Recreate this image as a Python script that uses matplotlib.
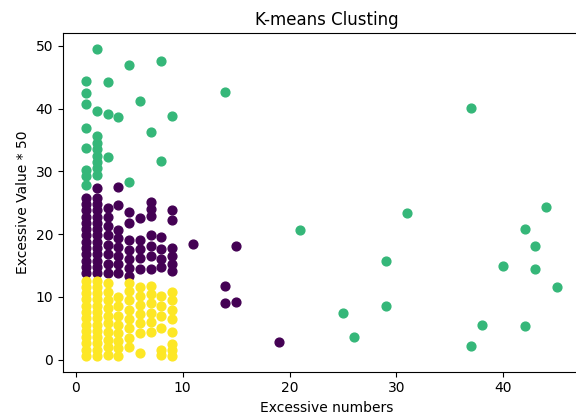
import matplotlib
matplotlib.use("Agg")
import matplotlib.pyplot as plt
import numpy as np

# ---- data: (x, y) per cluster ----
green_x = [2, 5, 8, 1, 3, 1, 1, 6, 2, 3, 4, 9, 1, 7, 1, 3, 8, 1, 1, 1, 5,
           2, 2, 2, 2, 2, 2, 2,
           14, 37, 31, 21, 44, 42, 43, 29, 40, 43, 45, 29, 25, 26, 38, 42, 37]
green_y = [49.5, 46.9, 47.6, 44.4, 44.3, 42.5, 40.8, 41.2, 39.6, 39.2, 38.7, 38.9,
           36.9, 36.3, 33.7, 32.3, 31.6, 30.2, 29.2, 27.9, 28.3,
           29.5, 30.5, 31.5, 32.5, 33.5, 34.5, 35.6,
           42.6, 40.1, 23.4, 20.6, 24.3, 20.9, 18.2, 15.8, 15.0, 14.5, 11.6,
           8.5, 7.5, 3.6, 5.6, 5.4, 2.2]

purple_x = ([1] * 13 + [2] * 14 + [3] * 8 + [4] * 8 + [5] * 7 + [6] * 5 +
            [7] * 7 + [8] * 4 + [9] * 6 + [11, 15, 14, 14, 15, 19])
purple_y = ([13.8, 14.8, 15.8, 16.8, 17.8, 18.8, 19.8, 20.8, 21.8, 22.8, 23.8, 24.8, 25.8] +
            [13.8, 14.8, 15.8, 16.8, 17.8, 18.8, 19.8, 20.8, 21.8, 22.8, 23.8, 24.8, 25.8, 27.4] +
            [13.8, 15.3, 16.8, 18.3, 19.8, 21.3, 22.8, 24.2] +
            [27.5, 24.7, 20.7, 19.4, 18.0, 16.6, 15.2, 13.8] +
            [23.5, 21.8, 19.0, 17.5, 16.0, 14.6, 13.4] +
            [22.6, 19.0, 17.6, 16.2, 14.5] +
            [25.2, 24.0, 22.9, 19.9, 18.2, 16.5, 14.5] +
            [19.5, 17.7, 16.1, 14.8] +
            [23.9, 22.2, 17.8, 16.5, 15.2, 14.2] +
            [18.5, 18.2, 11.7, 9.1, 9.2, 2.8])

yellow_x = ([1] * 13 + [2] * 13 + [3] * 10 + [4] * 8 + [5] * 8 + [6] * 7 +
            [7] * 6 + [8] * 6 + [9] * 8)
yellow_y = ([0.6, 1.6, 2.6, 3.6, 4.6, 5.6, 6.6, 7.6, 8.6, 9.6, 10.6, 11.6, 12.6] +
            [0.6, 1.6, 2.6, 3.6, 4.6, 5.6, 6.6, 7.6, 8.6, 9.6, 10.6, 11.6, 12.6] +
            [0.8, 2.0, 3.2, 4.5, 5.8, 7.0, 8.3, 9.5, 10.8, 12.3] +
            [0.6, 1.8, 3.0, 4.3, 5.5, 7.0, 8.5, 10.0] +
            [2.1, 3.5, 5.0, 6.5, 8.0, 9.5, 11.0, 12.3] +
            [1.0, 4.3, 5.8, 7.3, 8.8, 10.2, 11.6] +
            [4.5, 6.0, 7.5, 9.0, 10.5, 11.8] +
            [0.8, 1.6, 5.0, 7.0, 8.5, 10.2] +
            [0.6, 1.5, 2.5, 4.5, 6.5, 8.0, 9.5, 10.8])

PURPLE = "#440154"
GREEN = "#35b779"
YELLOW = "#fde725"

fig = plt.figure(figsize=(5.76, 4.2), dpi=100)
# axes extends past the right edge of the figure, as in the (cropped) reference
ax = fig.add_axes([62.9 / 576, (420 - 371.7) / 420, 527.1 / 576, (371.7 - 33.3) / 420])

ax.scatter(purple_x, purple_y, s=40, c=PURPLE)
ax.scatter(green_x, green_y, s=40, c=GREEN)
ax.scatter(yellow_x, yellow_y, s=40, c=YELLOW)

ax.set_xlim(-1.2, 48.1)
ax.set_ylim(-1.9, 52.0)
ax.set_xticks([0, 10, 20, 30, 40])
ax.set_yticks([0, 10, 20, 30, 40, 50])
ax.tick_params(labelsize=10)

ax.set_title("K-means Clusting", fontsize=12)
ax.set_xlabel("Excessive numbers", fontsize=10)
ax.set_ylabel("Excessive Value * 50", fontsize=10)

fig.savefig("out.png", dpi=100)
